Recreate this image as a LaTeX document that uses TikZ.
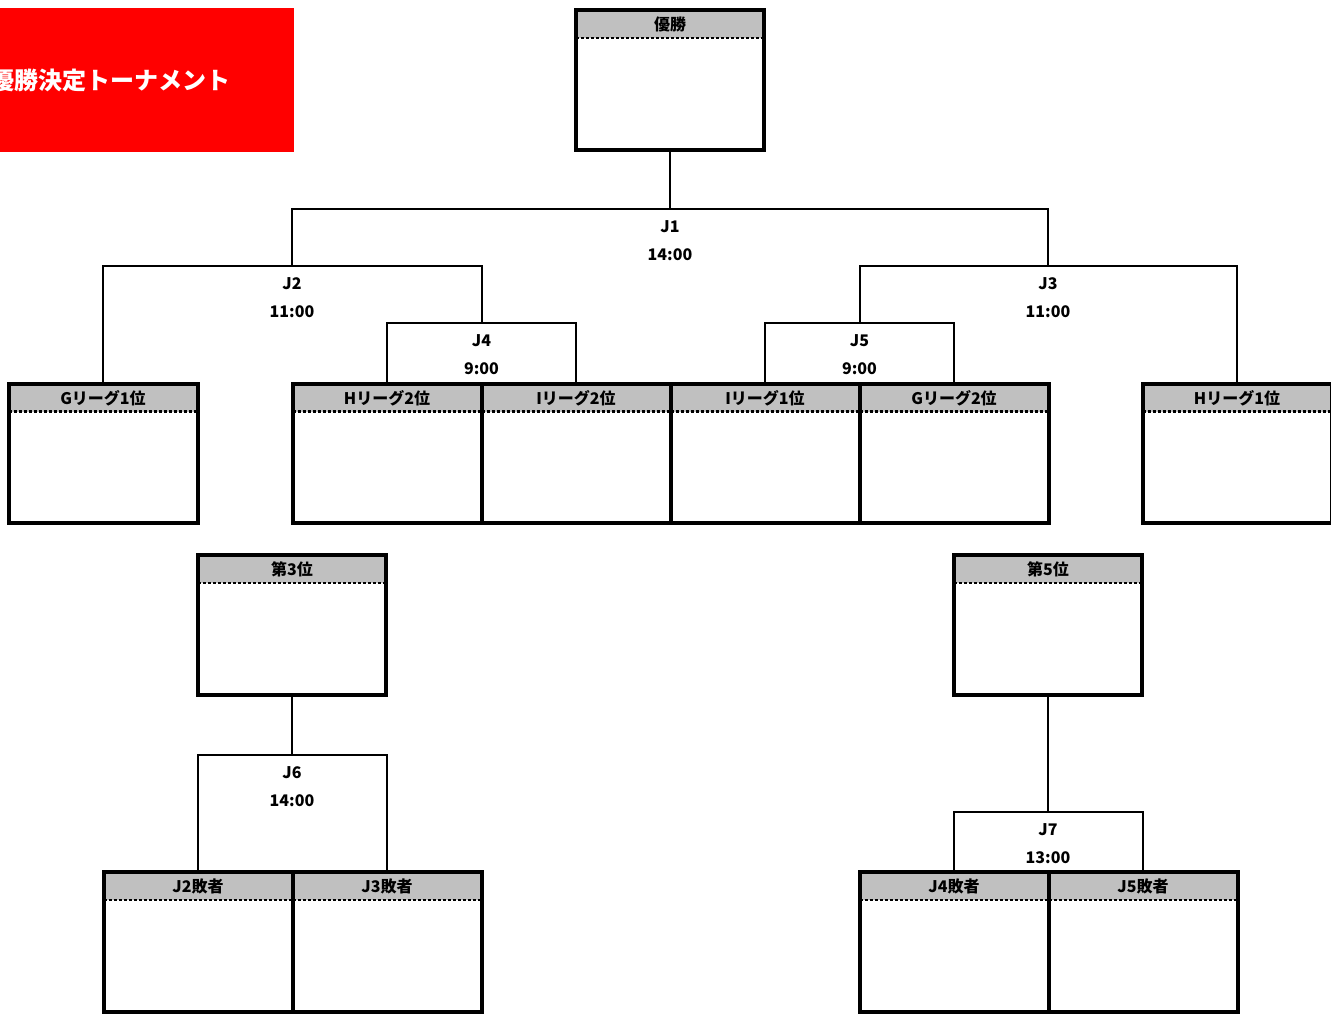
\documentclass[tikz,border=0pt]{standalone}
\usepackage{fontspec}
\usepackage{xcolor}
\usetikzlibrary{positioning,calc}
\newfontfamily\jpfont{Noto Sans CJK JP}
\definecolor{hdrgray}{RGB}{192,192,192}
\definecolor{titlered}{RGB}{255,0,0}

\tikzset{
  teambox/.style={draw, line width=4pt, outer sep=0pt, inner sep=0pt,
    minimum width=189pt, minimum height=139pt,
    path picture={
      \fill[hdrgray] (path picture bounding box.north west) rectangle ([yshift=-28pt]path picture bounding box.north east);
      \draw[line width=2.5pt, dash pattern=on 3pt off 2pt] ([yshift=-28pt]path picture bounding box.north west) -- ([yshift=-28pt]path picture bounding box.north east);
    }},
  hdr/.style={anchor=center, yshift=-14.5pt, inner sep=0pt, font=\jpfont\bfseries\fontsize{16}{18}\selectfont},
  bracket/.style={line width=2pt},
  matchlbl/.style={inner sep=0pt, align=center, font=\jpfont\bfseries\fontsize{16}{28}\selectfont}
}

\begin{document}
\begin{tikzpicture}[x=1pt, y=-1pt]
    \useasboundingbox (0,0) rectangle (1331,1014);

    % title
    \node[fill=titlered, minimum width=294pt, minimum height=144pt, inner sep=0pt, outer sep=0pt] (title) at (147,80) {};
    \begin{scope}
        \clip (title.south west) rectangle (title.north east);
        \node[anchor=east, inner sep=0pt, text=white, font=\jpfont\bfseries\fontsize{24}{26}\selectfont] (titletxt) at (231,80) {優勝決定トーナメント};
    \end{scope}

    % final placings
    \node[teambox, minimum width=188pt, minimum height=140pt, label={[hdr]north:優勝}] (champ) at (670,80) {};
    \node[teambox, minimum width=188pt, minimum height=140pt, label={[hdr]north:第3位}] (third) at (292,625) {};
    \node[teambox, minimum width=188pt, minimum height=140pt, label={[hdr]north:第5位}] (fifth) at (1048,625) {};

    % league teams
    \node[teambox, label={[hdr]north:Gリーグ1位}] (g1) at (103,453) {};
    \node[teambox, label={[hdr]north:Hリーグ2位}] (h2) at (387,453) {};
    \node[teambox, label={[hdr]north:Iリーグ2位}] (i2) at (576,453) {};
    \node[teambox, label={[hdr]north:Iリーグ1位}] (i1) at (765,453) {};
    \node[teambox, label={[hdr]north:Gリーグ2位}] (g2) at (954,453) {};
    \node[teambox, label={[hdr]north:Hリーグ1位}] (h1) at (1237,453) {};

    % losers
    \node[teambox, minimum height=140pt, label={[hdr]north:J2敗者}] (l2) at (198,942) {};
    \node[teambox, minimum height=140pt, label={[hdr]north:J3敗者}] (l3) at (387,942) {};
    \node[teambox, minimum height=140pt, label={[hdr]north:J4敗者}] (l4) at (954,942) {};
    \node[teambox, minimum height=140pt, label={[hdr]north:J5敗者}] (l5) at (1143,942) {};

    % match points
    \coordinate (j1) at (670,209);
    \coordinate (j2) at (292,266);
    \coordinate (j3) at (1048,266);
    \coordinate (j4) at (481.5,323);
    \coordinate (j5) at (859.5,323);
    \coordinate (j6) at (292,755);
    \coordinate (j7) at (1048,812);

    % brackets
    \draw[bracket] (champ.south) -- (j1);
    \draw[bracket] (j2) |- (j1) -| (j3);
    \draw[bracket] (g1.north) |- (j2) -| (j4);
    \draw[bracket] (h2.north) |- (j4) -| (i2.north);
    \draw[bracket] (i1.north) |- (j5) -| (g2.north);
    \draw[bracket] (j5) |- (j3) -| (h1.north);
    \draw[bracket] (third.south) -- (j6);
    \draw[bracket] (l2.north) |- (j6) -| (l3.north);
    \draw[bracket] (fifth.south) -- (j7);
    \draw[bracket] (l4.north) |- (j7) -| (l5.north);

    % match labels
    \node[matchlbl, below=11pt of j1] (m1) {J1\\14:00};
    \node[matchlbl, below=11pt of j2] (m2) {J2\\11:00};
    \node[matchlbl, below=11pt of j3] (m3) {J3\\11:00};
    \node[matchlbl, below=11pt of j4] (m4) {J4\\9:00};
    \node[matchlbl, below=11pt of j5] (m5) {J5\\9:00};
    \node[matchlbl, below=11pt of j6] (m6) {J6\\14:00};
    \node[matchlbl, below=11pt of j7] (m7) {J7\\13:00};
\end{tikzpicture}
\end{document}
